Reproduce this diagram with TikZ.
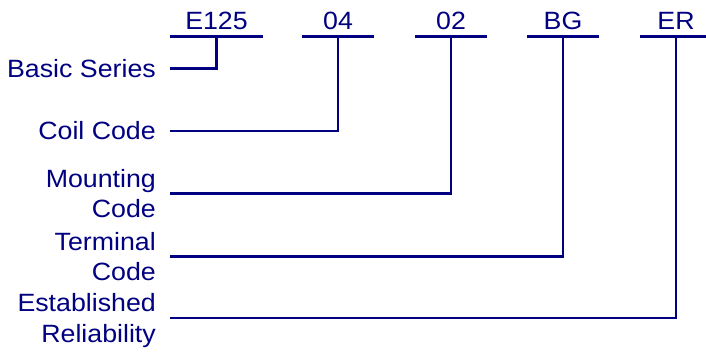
\documentclass[tikz,border=0pt]{standalone}
\usepackage{fontspec}
\setmainfont{Liberation Sans}
\newfontfamily\diagfont[FakeStretch=1.07]{Liberation Sans}
\definecolor{inkblue}{RGB}{0,0,128}
\newcommand\labtop{\rule{0pt}{24pt}}
\newcommand\labbot{\rule[-6.1pt]{0pt}{6.1pt}}
\begin{document}
\begin{tikzpicture}[x=1pt,y=-1pt,
  every node/.style={font=\diagfont\fontsize{25}{30.5}\selectfont, text=inkblue, inner sep=0pt},
  codebox/.style={anchor=south, text width=#1, align=center, text depth=7pt, minimum width=#1},
  labelbox/.style={anchor=east, align=right, inner xsep=14pt, inner ysep=0pt},
  wire/.style={draw=inkblue, line width=2.3pt}]
\useasboundingbox (0,0) rectangle (706,351);
% code fields
\node[codebox=92pt] (e125) at (216.5,36.5) {E125};
\node[codebox=72pt] (c04) at (338,36.5) {04};
\node[codebox=72pt] (c02) at (451,36.5) {02};
\node[codebox=72pt] (cbg) at (563,36.5) {BG};
\node[codebox=72pt] (cer) at (676,36.5) {ER};
\foreach \n in {e125,c04,c02,cbg,cer}
  \draw[wire] (\n.south west) -- (\n.south east);
% labels
\node[labelbox] (bs) at (170,68.5) {\labtop Basic Series\labbot};
\node[labelbox] (cc) at (170,131) {\labtop Coil Code\labbot};
\node[labelbox] (mc) at (170,193.5) {\labtop Mounting\\Code\labbot};
\node[labelbox] (tc) at (170,256.5) {\labtop Terminal\\Code\labbot};
\node[labelbox] (er) at (170,318) {\labtop Established\\Reliability\labbot};
% connectors
\draw[wire] (bs.east) -| (e125.south);
\draw[wire] (cc.east) -| (c04.south);
\draw[wire] (mc.east) -| (c02.south);
\draw[wire] (tc.east) -| (cbg.south);
\draw[wire] (er.east) -| (cer.south);
\end{tikzpicture}
\end{document}
